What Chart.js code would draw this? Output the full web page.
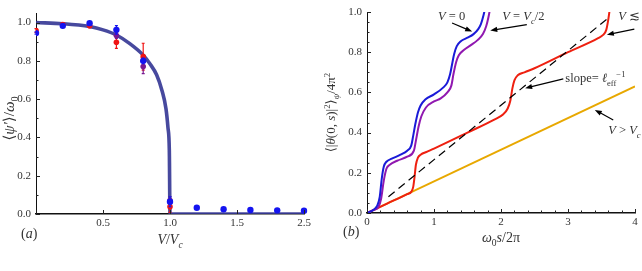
<!DOCTYPE html>
<html><head><meta charset="utf-8">
<script src="https://cdn.jsdelivr.net/npm/chart.js@4"></script>
<style>
html,body{margin:0;padding:0;background:#fff;overflow:hidden}
#wrap{position:relative;width:642px;height:271px}
canvas{position:absolute;top:0}
#ca{left:0}
#cb{left:320px}
</style></head><body>
<div id="wrap"><canvas id="ca" width="320" height="271"></canvas><canvas id="cb" width="322" height="271"></canvas></div>
<script>
// ---------- Panel (a) data ----------
const aXTickValues = [0, 0.5, 1.0, 1.5, 2.0];
const aXTickLabels = ['', '0.5', '1.0', '1.5', '2.5'];
const aYTickValues = [0, 0.2, 0.4, 0.6, 0.8, 1.0];
const fitV = [0, 0.2, 0.4, 0.5, 0.6, 0.7, 0.8, 0.85, 0.9, 0.94, 0.97, 0.985, 0.995, 1.0, 2.0];
const fitY = [1.0, 0.994, 0.979, 0.962, 0.935, 0.89, 0.83, 0.785, 0.727, 0.645, 0.55, 0.45, 0.33, 0.0, 0.0];
const blueV = [0, 0.2, 0.4, 0.6, 0.8, 1.0, 1.2, 1.4, 1.6, 1.8, 2.0];
const blueY = [0.945, 0.983, 0.997, 0.962, 0.80, 0.064, 0.033, 0.025, 0.021, 0.019, 0.017];
const blueErr = [0.006, 0.006, 0.006, 0.022, 0.015, 0.026, 0, 0, 0, 0, 0];
const redV = [0, 0.2, 0.4, 0.6, 0.8, 1.0];
const redY = [0.958, 0.99, 0.983, 0.897, 0.822, 0.038];
const redErr = [0.01, 0.006, 0.006, 0.032, 0.07, 0.03];
const purpleV = [0.6, 0.8, 1.0];
const purpleY = [0.932, 0.77, 0.07];
const purpleErr = [0.015, 0.037, 0.02];

// ---------- Panel (b) data ----------
const bXTickValues = [0, 1, 2, 3, 4];
const bYTickValues = [0, 0.2, 0.4, 0.6, 0.8, 1.0];
const v0S = [0, 0.1, 0.15, 0.19, 0.22, 0.25, 0.29, 0.37, 0.5, 0.6, 0.66, 0.69, 0.72, 0.76, 0.8, 0.87, 1.0, 1.14, 1.2, 1.24, 1.27, 1.3, 1.34, 1.4, 1.5, 1.59, 1.66, 1.7, 1.74, 1.77];
const v0V = [0, 0.016, 0.035, 0.08, 0.17, 0.23, 0.255, 0.27, 0.29, 0.31, 0.335, 0.385, 0.44, 0.5, 0.535, 0.565, 0.59, 0.625, 0.65, 0.69, 0.74, 0.79, 0.83, 0.855, 0.872, 0.89, 0.915, 0.94, 0.985, 1.03];
const vHalfS = [0, 0.1, 0.17, 0.21, 0.25, 0.29, 0.34, 0.45, 0.6, 0.7, 0.73, 0.77, 0.81, 0.88, 1.0, 1.1, 1.2, 1.26, 1.29, 1.33, 1.37, 1.45, 1.55, 1.65, 1.73, 1.78, 1.81, 1.845];
const vHalfV = [0, 0.015, 0.03, 0.07, 0.16, 0.22, 0.24, 0.26, 0.28, 0.31, 0.36, 0.43, 0.48, 0.525, 0.555, 0.57, 0.6, 0.635, 0.69, 0.75, 0.785, 0.812, 0.835, 0.86, 0.89, 0.93, 0.97, 1.03];
const vLessS = [0, 0.3, 0.6, 0.66, 0.69, 0.71, 0.73, 0.76, 0.8, 0.9, 1.0, 1.5, 1.9, 2.03, 2.1, 2.14, 2.17, 2.2, 2.25, 2.35, 2.5, 3.0, 3.45, 3.52, 3.57, 3.6, 3.63];
const vLessV = [0, 0.047, 0.094, 0.105, 0.13, 0.18, 0.24, 0.275, 0.29, 0.305, 0.32, 0.4, 0.465, 0.49, 0.52, 0.56, 0.62, 0.66, 0.685, 0.70, 0.72, 0.80, 0.87, 0.885, 0.91, 0.96, 1.03];
const vMoreS = [0, 4];
const vMoreV = [0, 0.63];
const slopeS = [0.32, 3.63];
const slopeV = [0.081, 0.978];

const FAM = "'Liberation Serif','DejaVu Serif',serif";
const TXT = '#333';
Chart.defaults.font.family = FAM;
Chart.defaults.color = TXT;

const pts = (xs, ys) => xs.map((x, i) => ({x: x, y: ys[i]}));

function drawRich(ctx, segs, x, y, size, align) {
  let w = 0;
  const parts = segs.map(s => {
    const fs = (s.sub || s.sup) ? size * 0.68 : size;
    const font = (s.it ? 'italic ' : '') + fs + 'px ' + FAM;
    ctx.font = font;
    const m = ctx.measureText(s.t).width;
    w += m;
    return {s: s, font: font, m: m};
  });
  let cx = align === 'center' ? x - w / 2 : x;
  ctx.textAlign = 'left';
  ctx.textBaseline = 'alphabetic';
  for (const p of parts) {
    ctx.font = p.font;
    const dy = p.s.sub ? size * 0.28 : (p.s.sup ? -size * 0.42 : 0);
    ctx.fillText(p.s.t, cx, y + dy);
    cx += p.m;
  }
}

function arrow(ctx, x1, y1, x2, y2) {
  const ang = Math.atan2(y2 - y1, x2 - x1);
  const L = 7, W = 2.6;
  ctx.strokeStyle = '#000'; ctx.fillStyle = '#000'; ctx.lineWidth = 1.2;
  ctx.beginPath(); ctx.moveTo(x1, y1);
  ctx.lineTo(x2 - Math.cos(ang) * L * 0.8, y2 - Math.sin(ang) * L * 0.8); ctx.stroke();
  ctx.beginPath();
  ctx.moveTo(x2, y2);
  ctx.lineTo(x2 - Math.cos(ang) * L - Math.sin(ang) * W, y2 - Math.sin(ang) * L + Math.cos(ang) * W);
  ctx.lineTo(x2 - Math.cos(ang) * L + Math.sin(ang) * W, y2 - Math.sin(ang) * L - Math.cos(ang) * W);
  ctx.closePath(); ctx.fill();
}

// inward ticks plugin
const inwardTicks = {
  id: 'inwardTicks',
  afterDraw(chart, args, opts) {
    const ctx = chart.ctx, a = chart.chartArea;
    const xs = chart.scales.x, ys = chart.scales.y;
    ctx.save();
    ctx.strokeStyle = '#222'; ctx.lineWidth = 1;
    const tick = (isX, v, len) => {
      if (isX) { const p = Math.round(xs.getPixelForValue(v)) + 0.5; ctx.beginPath(); ctx.moveTo(p, a.bottom); ctx.lineTo(p, a.bottom - len); ctx.stroke(); }
      else { const p = Math.round(ys.getPixelForValue(v)) + 0.5; ctx.beginPath(); ctx.moveTo(a.left, p); ctx.lineTo(a.left + len, p); ctx.stroke(); }
    };
    for (const t of xs.ticks) tick(true, t.value, 4);
    for (const t of ys.ticks) tick(false, t.value, 4);
    if (opts.xMinor) for (let v = xs.min; v <= xs.max + 1e-9; v += opts.xMinor) tick(true, v, 2.5);
    if (opts.yMinor) for (let v = ys.min; v <= ys.max + 1e-9; v += opts.yMinor) tick(false, v, 2.5);
    ctx.restore();
  }
};

// error bars plugin
const errorBars = {
  id: 'errorBars',
  beforeDatasetDraw(chart, args) {
    const ds = chart.data.datasets[args.index];
    if (!ds.errs) return;
    const ctx = chart.ctx, xs = chart.scales.x, ys = chart.scales.y;
    ctx.save();
    ctx.strokeStyle = ds.backgroundColor; ctx.lineWidth = 1.2;
    ds.data.forEach((p, i) => {
      const e = ds.errs[i]; if (!e) return;
      const px = xs.getPixelForValue(p.x);
      const t = ys.getPixelForValue(p.y + e), b = ys.getPixelForValue(p.y - e);
      ctx.beginPath();
      ctx.moveTo(px, t); ctx.lineTo(px, b);
      ctx.moveTo(px - 1.5, t); ctx.lineTo(px + 1.5, t);
      ctx.moveTo(px - 1.5, b); ctx.lineTo(px + 1.5, b);
      ctx.stroke();
    });
    ctx.restore();
  }
};

// text / annotation plugin
const texts = {
  id: 'texts',
  afterDraw(chart, args, opts) {
    const ctx = chart.ctx, xs = chart.scales.x, ys = chart.scales.y, a = chart.chartArea;
    ctx.save();
    ctx.fillStyle = TXT;
    drawRich(ctx, opts.xTitle, (a.left + a.right) / 2 + opts.xTitleDx, a.bottom + opts.xTitleDy, 14, 'center');
    ctx.save();
    ctx.translate(opts.yTitleX, (a.top + a.bottom) / 2 + opts.yTitleDy);
    ctx.rotate(-Math.PI / 2);
    ctx.fillStyle = TXT;
    drawRich(ctx, opts.yTitle, 0, 0, opts.yTitleSize, 'center');
    ctx.restore();
    ctx.fillStyle = TXT;
    drawRich(ctx, opts.panel, opts.panelX, a.bottom + opts.panelDy, 14, 'left');
    (opts.notes || []).forEach(n => {
      ctx.fillStyle = TXT;
      drawRich(ctx, n.segs, xs.getPixelForValue(n.s), ys.getPixelForValue(n.v), 12.5, 'left');
      arrow(ctx, xs.getPixelForValue(n.from[0]), ys.getPixelForValue(n.from[1]), xs.getPixelForValue(n.to[0]), ys.getPixelForValue(n.to[1]));
    });
    ctx.restore();
  }
};

const tickFont = {family: FAM, size: 11};

// ---------- Chart (a) ----------
new Chart(document.getElementById('ca'), {
  type: 'scatter',
  data: {
    datasets: [
      {data: pts(blueV, blueY), errs: blueErr, backgroundColor: '#1414f0', borderColor: '#1414f0', pointRadius: 3.2, pointBorderWidth: 0, clip: {left: 0, top: false, right: false, bottom: false}},
      {data: pts(purpleV, purpleY), errs: purpleErr, backgroundColor: '#7a1a90', borderColor: '#7a1a90', pointRadius: 2.8, pointBorderWidth: 0},
      {data: pts(redV, redY), errs: redErr, backgroundColor: '#f01414', borderColor: '#f01414', pointRadius: 2.8, pointBorderWidth: 0, clip: {left: 0, top: false, right: false, bottom: false}},
      {data: pts(fitV, fitY), showLine: true, borderColor: 'rgba(55,58,150,0.92)', borderWidth: 3.6, pointRadius: 0, cubicInterpolationMode: 'monotone'}
    ]
  },
  options: {
    responsive: false, animation: false, devicePixelRatio: 1,
    layout: {padding: {top: 13, right: 16, left: 0, bottom: 0}},
    plugins: {
      legend: {display: false}, tooltip: {enabled: false},
      inwardTicks: {yMinor: 0.1},
      texts: {
        xTitle: [{t: 'V', it: 1}, {t: '/'}, {t: 'V', it: 1}, {t: 'c', it: 1, sub: 1}], xTitleDx: 0, xTitleDy: 30,
        yTitle: [{t: '⟨'}, {t: 'ψ′', it: 1}, {t: '⟩/'}, {t: 'ω', it: 1}, {t: '0', sub: 1}], yTitleX: 14, yTitleDy: 5, yTitleSize: 15,
        panel: [{t: '('}, {t: 'a', it: 1}, {t: ')'}], panelX: 21, panelDy: 24
      }
    },
    scales: {
      x: {
        type: 'linear', min: 0, max: 2.0,
        grid: {display: false, drawTicks: false},
        border: {display: true, color: '#111', width: 1.6},
        afterBuildTicks: s => { s.ticks = aXTickValues.map(v => ({value: v})); },
        afterFit: s => { s.height = 57; },
        ticks: {font: tickFont, color: TXT, padding: 3, maxRotation: 0, autoSkip: false,
          callback: (v) => { const i = aXTickValues.indexOf(v); return i >= 0 ? aXTickLabels[i] : ''; }}
      },
      y: {
        type: 'linear', min: 0, max: 1.05,
        grid: {display: false, drawTicks: false},
        border: {display: true, color: '#111', width: 1},
        afterBuildTicks: s => { s.ticks = aYTickValues.map(v => ({value: v})); },
        afterFit: s => { s.width = 36; },
        ticks: {font: tickFont, color: TXT, padding: 5, autoSkip: false, callback: v => v.toFixed(1)}
      }
    }
  },
  plugins: [errorBars, inwardTicks, texts]
});

// ---------- Chart (b) ----------
const bNotes = [
  {segs: [{t: 'V', it: 1}, {t: ' = 0'}], s: 1.06, v: 0.958, from: [1.27, 0.945], to: [1.57, 0.903]},
  {segs: [{t: 'V', it: 1}, {t: ' = '}, {t: 'V', it: 1}, {t: 'c', it: 1, sub: 1}, {t: '/2'}], s: 2.02, v: 0.958, from: [2.385, 0.937], to: [1.84, 0.908]},
  {segs: [{t: 'V', it: 1}, {t: ' ≲ '}, {t: 'V', it: 1}, {t: 'c', it: 1, sub: 1}], s: 3.75, v: 0.958, from: [3.99, 0.915], to: [3.58, 0.887]},
  {segs: [{t: 'slope= '}, {t: 'ℓ', it: 1}, {t: 'eff', sub: 1}, {t: '−1', sup: 1}], s: 2.96, v: 0.65, from: [2.93, 0.667], to: [2.36, 0.621]},
  {segs: [{t: 'V', it: 1}, {t: ' > '}, {t: 'V', it: 1}, {t: 'c', it: 1, sub: 1}], s: 3.6, v: 0.392, from: [3.675, 0.463], to: [3.40, 0.513]}
];

new Chart(document.getElementById('cb'), {
  type: 'scatter',
  data: {
    datasets: [
      {data: pts(v0S, v0V), showLine: true, borderColor: '#1a1ad8', borderWidth: 2, pointRadius: 0, cubicInterpolationMode: 'monotone'},
      {data: pts(vHalfS, vHalfV), showLine: true, borderColor: '#9018b0', borderWidth: 2, pointRadius: 0, cubicInterpolationMode: 'monotone'},
      {data: pts(slopeS, slopeV), showLine: true, borderColor: '#000', borderWidth: 1.2, borderDash: [8, 5], pointRadius: 0},
      {data: pts(vLessS, vLessV), showLine: true, borderColor: '#ee2010', borderWidth: 2, pointRadius: 0, cubicInterpolationMode: 'monotone'},
      {data: pts(vMoreS, vMoreV), showLine: true, borderColor: '#e8a800', borderWidth: 2, pointRadius: 0}
    ]
  },
  options: {
    responsive: false, animation: false, devicePixelRatio: 1,
    layout: {padding: {top: 12, right: 7, left: 0, bottom: 0}},
    plugins: {
      legend: {display: false}, tooltip: {enabled: false},
      inwardTicks: {xMinor: 0.2, yMinor: 0.05},
      texts: {
        xTitle: [{t: 'ω', it: 1}, {t: '0', sub: 1}, {t: 's', it: 1}, {t: '/2π'}], xTitleDx: 0, xTitleDy: 29,
        yTitle: [{t: '⟨|'}, {t: 'θ', it: 1}, {t: '(0, '}, {t: 's', it: 1}, {t: ')|'}, {t: '2', sup: 1}, {t: '⟩'}, {t: 'ψ', it: 1, sub: 1}, {t: '/4π'}, {t: '2', sup: 1}], yTitleX: 15, yTitleDy: 0, yTitleSize: 13,
        panel: [{t: '('}, {t: 'b', it: 1}, {t: ')'}], panelX: 23, panelDy: 23,
        notes: bNotes
      }
    },
    scales: {
      x: {
        type: 'linear', min: 0, max: 4,
        grid: {display: false, drawTicks: false},
        border: {display: true, color: '#111', width: 1.6},
        afterBuildTicks: s => { s.ticks = bXTickValues.map(v => ({value: v})); },
        afterFit: s => { s.height = 58; },
        ticks: {font: tickFont, color: TXT, padding: 3, maxRotation: 0, autoSkip: false, callback: v => String(v)}
      },
      y: {
        type: 'linear', min: 0, max: 1.0,
        grid: {display: false, drawTicks: false},
        border: {display: true, color: '#111', width: 1},
        afterBuildTicks: s => { s.ticks = bYTickValues.map(v => ({value: v})); },
        afterFit: s => { s.width = 47; },
        ticks: {font: tickFont, color: TXT, padding: 5, autoSkip: false, callback: v => v.toFixed(1)}
      }
    }
  },
  plugins: [inwardTicks, texts]
});
</script>
</body></html>
